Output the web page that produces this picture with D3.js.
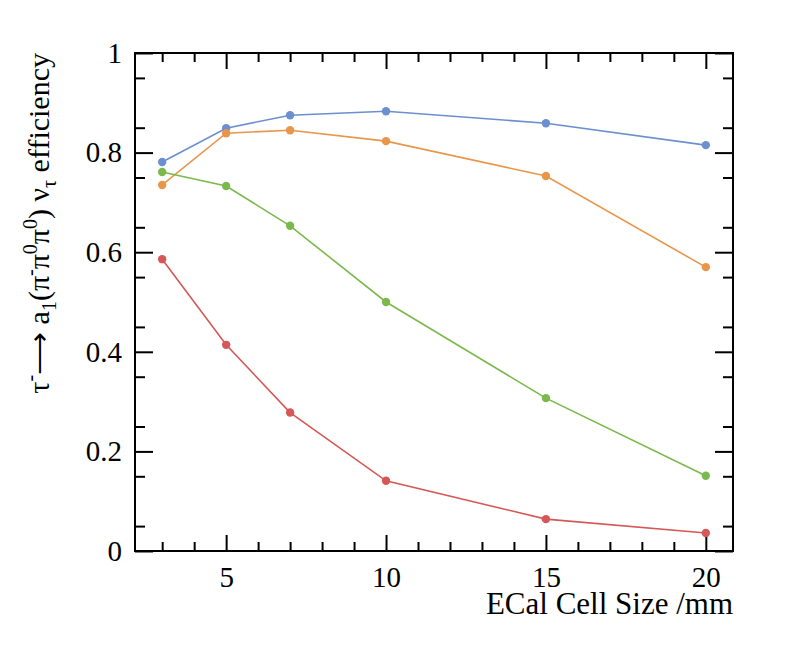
<!DOCTYPE html>
<html>
<head>
<meta charset="utf-8">
<script src="https://cdn.jsdelivr.net/npm/d3@7"></script>
<style>
  body { margin: 0; background: #fff; }
</style>
</head>
<body>
<svg id="chart" width="796" height="672"></svg>
<script>
/******** DATA ********/
var cellSizes = [3, 5, 7, 10, 15, 20];
var effBlue   = [0.781, 0.849, 0.875, 0.883, 0.859, 0.815];
var effOrange = [0.735, 0.839, 0.845, 0.823, 0.753, 0.570];
var effGreen  = [0.761, 0.733, 0.653, 0.500, 0.307, 0.151];
var effRed    = [0.586, 0.414, 0.278, 0.141, 0.064, 0.036];
var xMajorTicks = [5, 10, 15, 20];
var yMajorTicks = [0, 0.2, 0.4, 0.6, 0.8, 1];

var series = [
    {name: 'blue',   values: effBlue,   color: '#6c8fd0'},
    {name: 'orange', values: effOrange, color: '#e8964a'},
    {name: 'green',  values: effGreen,  color: '#7bb94c'},
    {name: 'red',    values: effRed,    color: '#d65757'}
];

/******** LAYOUT ********/
var padL = 135, padR = 733, padT = 53, padB = 551;
var serif = '"Liberation Serif", "Times New Roman", serif';
var tickFont = 29;
var svg = d3.select('#chart');

var x = d3.scaleLinear().domain([2.15, 20.85]).range([padL, padR]);
var y = d3.scaleLinear().domain([0, 1]).range([padB, padT]);

var xMinor = d3.range(3, 21, 1).filter(function(v){ return xMajorTicks.indexOf(v) < 0; });
var yMinor = d3.range(0, 21).map(function(i){ return i * 0.05; })
    .filter(function(v){ return Math.abs(Math.round(v * 10) - v * 10) > 0.01; });

function styleAxis(g) {
    g.select('.domain').remove();
    g.selectAll('line').attr('stroke', '#000').attr('stroke-width', 2);
}
function styleLabels(g) {
    g.attr('font-family', serif);
    g.selectAll('text').attr('font-size', tickFont).attr('font-family', serif).attr('fill', '#000');
}

// bottom axis, ticks pointing in (ROOT style)
svg.append('g').attr('transform', 'translate(0,' + padB + ')')
    .call(d3.axisBottom(x).tickValues(xMajorTicks).tickSize(-16).tickPadding(15).tickFormat(d3.format('d')))
    .call(styleAxis)
    .call(styleLabels);
svg.append('g').attr('transform', 'translate(0,' + padB + ')')
    .call(d3.axisBottom(x).tickValues(xMinor).tickSize(-9).tickFormat(''))
    .call(styleAxis);
// top axis mirror
svg.append('g').attr('transform', 'translate(0,' + padT + ')')
    .call(d3.axisTop(x).tickValues(xMajorTicks).tickSize(-16).tickFormat(''))
    .call(styleAxis);
svg.append('g').attr('transform', 'translate(0,' + padT + ')')
    .call(d3.axisTop(x).tickValues(xMinor).tickSize(-9).tickFormat(''))
    .call(styleAxis);

// left axis
svg.append('g').attr('transform', 'translate(' + padL + ',0)')
    .call(d3.axisLeft(y).tickValues(yMajorTicks).tickSize(-18).tickPadding(13)
        .tickFormat(function(d){ return d === 0 || d === 1 ? d3.format('d')(d) : d3.format('.1f')(d); }))
    .call(styleAxis)
    .call(styleLabels);
svg.append('g').attr('transform', 'translate(' + padL + ',0)')
    .call(d3.axisLeft(y).tickValues(yMinor).tickSize(-10).tickFormat(''))
    .call(styleAxis);
// right axis mirror
svg.append('g').attr('transform', 'translate(' + padR + ',0)')
    .call(d3.axisRight(y).tickValues(yMajorTicks).tickSize(-18).tickFormat(''))
    .call(styleAxis);
svg.append('g').attr('transform', 'translate(' + padR + ',0)')
    .call(d3.axisRight(y).tickValues(yMinor).tickSize(-10).tickFormat(''))
    .call(styleAxis);

// frame
svg.append('rect')
    .attr('x', padL).attr('y', padT)
    .attr('width', padR - padL).attr('height', padB - padT)
    .attr('fill', 'none').attr('stroke', '#000').attr('stroke-width', 2);

/******** SERIES ********/
var line = d3.line()
    .x(function(d){ return x(d[0]); })
    .y(function(d){ return y(d[1]); });

series.forEach(function(s){
    var pts = cellSizes.map(function(c, i){ return [c, s.values[i]]; });
    svg.append('path')
        .datum(pts)
        .attr('d', line)
        .attr('fill', 'none')
        .attr('stroke', s.color)
        .attr('stroke-width', 1.6);
    svg.append('g').selectAll('circle')
        .data(pts)
        .enter().append('circle')
        .attr('cx', function(d){ return x(d[0]); })
        .attr('cy', function(d){ return y(d[1]); })
        .attr('r', 4.2)
        .attr('fill', s.color);
});

/******** TITLES ********/
svg.append('text')
    .attr('x', padR).attr('y', 614)
    .attr('text-anchor', 'end')
    .attr('font-family', serif)
    .attr('font-size', 31)
    .text('ECal Cell Size /mm');

var yTitle = svg.append('text')
    .attr('transform', 'translate(49,' + padT + ') rotate(-90)')
    .attr('text-anchor', 'end')
    .attr('font-family', serif)
    .attr('font-size', 30);
var parts = [
    ['τ', null], ['-', 'sup'], ['⟶ a', null], ['1', 'sub'], ['(π', null], ['-', 'sup'],
    ['π', null], ['0', 'sup'], ['π', null], ['0', 'sup'], [') ν', null], ['τ', 'sub'], [' efficiency', null]
];
var shift = 0;
parts.forEach(function(p){
    var dy = 0;
    if (p[1] === 'sup') dy = -12;
    else if (p[1] === 'sub') dy = 7;
    var t = yTitle.append('tspan')
        .attr('dy', dy - shift)
        .text(p[0]);
    if (p[1]) t.attr('font-size', 20);
    shift = dy;
});
</script>
</body>
</html>
